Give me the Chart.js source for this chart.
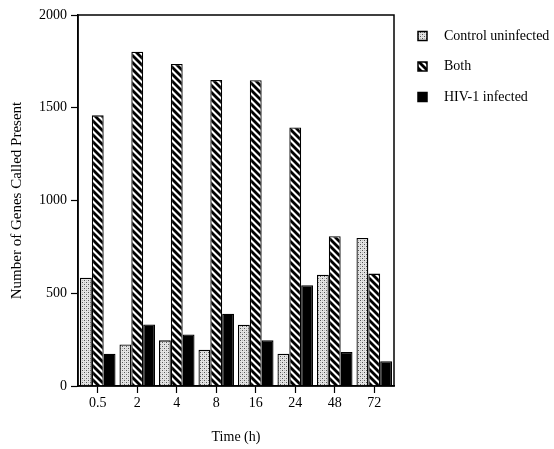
<!DOCTYPE html>
<html>
<head>
<meta charset="utf-8">
<script src="https://cdn.jsdelivr.net/npm/chart.js@4"></script>
<style>
  html, body { margin: 0; padding: 0; background: #fff; }
</style>
</head>
<body>
<canvas id="geneChart" width="554" height="449"></canvas>
<script>
// values
const timeLabels = ['0.5', '2', '4', '8', '16', '24', '48', '72'];
const controlUninfected = [584, 224, 246, 195, 330, 174, 600, 798];
const bothGroups = [1459, 1802, 1736, 1650, 1648, 1394, 807, 606];
const hivInfected = [174, 332, 278, 390, 246, 543, 183, 134];
const yTicks = [0, 500, 1000, 1500, 2000];

Chart.defaults.font.family = '"Liberation Serif", "Times New Roman", serif';
Chart.defaults.font.size = 14;
Chart.defaults.color = '#000';

function makeTile(size, draw) {
    const c = document.createElement('canvas');
    c.width = size;
    c.height = size;
    draw(c.getContext('2d'), size);
    return c;
}

const mainCtx = document.getElementById('geneChart').getContext('2d');

// stippled fill for the uninfected control
const dotPattern = mainCtx.createPattern(makeTile(4, (g, s) => {
    g.fillStyle = '#e4e4e4';
    g.fillRect(0, 0, s, s);
    g.fillStyle = '#555';
    g.fillRect(0, 0, 1, 1);
    g.fillRect(2, 2, 1, 1);
    g.fillStyle = '#bbb';
    g.fillRect(2, 0, 1, 1);
    g.fillRect(0, 2, 1, 1);
}), 'repeat');

// "\" hatching for genes present in both
const stripePattern = mainCtx.createPattern(makeTile(7, (g, s) => {
    g.fillStyle = '#fff';
    g.fillRect(0, 0, s, s);
    g.strokeStyle = '#000';
    g.lineWidth = 2.8;
    [-s, 0, s].forEach(c => {
        g.beginPath();
        g.moveTo(-1, c - 1);
        g.lineTo(s + 1, s + c + 1);
        g.stroke();
    });
}), 'repeat');

const frameBox = {
    id: 'frameBox',
    afterDatasetsDraw(chart) {
        const { ctx, chartArea: a } = chart;
        ctx.save();
        ctx.strokeStyle = '#000';
        ctx.lineWidth = 1.5;
        ctx.strokeRect(a.left, a.top, a.right - a.left, a.bottom - a.top);
        ctx.restore();
    }
};

const sideLegend = {
    id: 'sideLegend',
    afterDraw(chart) {
        const ctx = chart.ctx;
        ctx.save();
        ctx.font = '14px "Liberation Serif"';
        ctx.textBaseline = 'middle';
        chart.data.datasets.forEach((ds, i) => {
            const y = 36 + i * 30.5;
            ctx.fillStyle = ds.backgroundColor;
            ctx.fillRect(418, y - 4.5, 9, 9);
            ctx.strokeStyle = '#000';
            ctx.lineWidth = 1.5;
            ctx.strokeRect(418, y - 4.5, 9, 9);
            ctx.fillStyle = '#000';
            ctx.fillText(ds.label, 444, y);
        });
        ctx.restore();
    }
};

new Chart(mainCtx, {
    type: 'bar',
    data: {
        labels: timeLabels,
        datasets: [
            { label: 'Control uninfected', data: controlUninfected, backgroundColor: dotPattern },
            { label: 'Both', data: bothGroups, backgroundColor: stripePattern },
            { label: 'HIV-1 infected', data: hivInfected, backgroundColor: '#000' }
        ]
    },
    options: {
        responsive: false,
        animation: false,
        layout: { padding: { top: 15, right: 160, bottom: 0, left: 0 } },
        datasets: {
            bar: {
                borderColor: '#000',
                borderWidth: 1.3,
                categoryPercentage: 0.9,
                barPercentage: 1.0
            }
        },
        plugins: {
            legend: { display: false },
            tooltip: { enabled: false }
        },
        scales: {
            x: {
                offset: true,
                grid: { drawOnChartArea: false, offset: false, tickLength: 7, tickColor: '#000', tickWidth: 1.2 },
                border: { color: '#000', width: 1.5 },
                ticks: { padding: 2, maxRotation: 0 },
                title: { display: true, text: 'Time (h)', padding: { top: 0, bottom: 3.6 } },
                afterFit(scale) { scale.height = 63; }
            },
            y: {
                min: yTicks[0],
                max: yTicks[yTicks.length - 1],
                ticks: { stepSize: yTicks[1] - yTicks[0], padding: 4, callback: v => String(v) },
                grid: { drawOnChartArea: false, tickLength: 7, tickColor: '#000', tickWidth: 1.2 },
                border: { color: '#000', width: 1.5 },
                title: { display: true, text: 'Number of Genes Called Present', font: { size: 15 }, padding: { top: 8.5, bottom: 0 } },
                afterFit(scale) { scale.width = 78; }
            }
        }
    },
    plugins: [frameBox, sideLegend]
});
</script>
</body>
</html>
